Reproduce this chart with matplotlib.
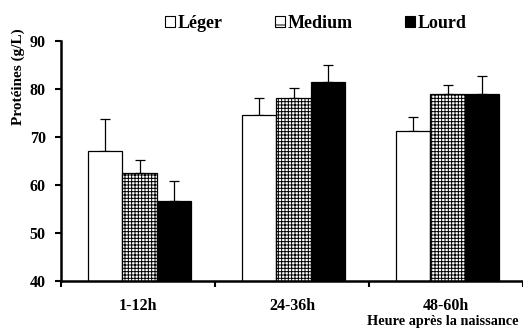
import matplotlib
matplotlib.use("Agg")
import matplotlib.pyplot as plt
import numpy as np
from matplotlib.patches import Patch

categories = ["1-12h", "24-36h", "48-60h"]
series = ["Léger", "Medium", "Lourd"]
leger = [67.0, 74.6, 71.2]
leger_err = [6.8, 3.5, 2.9]
medium = [62.4, 78.2, 79.0]
medium_err = [2.9, 2.1, 1.8]
lourd = [56.7, 81.5, 79.0]
lourd_err = [4.1, 3.5, 3.8]
yticks = [40, 50, 60, 70, 80, 90]

plt.rcParams['font.family'] = ['Liberation Serif', 'DejaVu Serif']
plt.rcParams['font.weight'] = 'bold'
plt.rcParams['hatch.linewidth'] = 0.7

W, H = 523, 328
fig = plt.figure(figsize=(W / 100, H / 100), dpi=100)
ax = fig.add_axes([61 / W, (H - 281) / H, (W - 61) / W, (281 - 41) / H])

x = np.arange(len(categories))
w = 0.223
styles = [
    dict(facecolor='white', hatch=None),
    dict(facecolor='white', hatch='+++++'),
    dict(facecolor='black', hatch=None),
]
vals = [leger, medium, lourd]
errs = [leger_err, medium_err, lourd_err]
for k in range(3):
    ax.bar(x + (k - 1) * w + 0.01, vals[k], w, bottom=0, color=styles[k]['facecolor'],
           edgecolor='black', linewidth=0.9, hatch=styles[k]['hatch'], zorder=2)
    ax.errorbar(x + (k - 1) * w + 0.01, vals[k], yerr=[np.zeros(3), errs[k]], fmt='none',
                ecolor='black', elinewidth=0.9, capsize=3.5, capthick=0.9, zorder=1)

ax.set_ylim(40, 90)
ax.set_xlim(-0.5, -0.5 + (W - 61) / 157)
ax.set_yticks(yticks)
ax.tick_params(axis='y', direction='out', length=4, width=1.5, pad=7, labelsize=11.5)
ax.set_xticks(x)
ax.set_xticklabels(categories)
ax.tick_params(axis='x', which='major', length=0, pad=12, labelsize=11.5)
ax.set_xticks([-0.5, 0.5, 1.5, 2.5], minor=True)
ax.tick_params(axis='x', which='minor', direction='out', length=4, width=1.5)
for lab in ax.get_xticklabels() + ax.get_yticklabels():
    lab.set_fontweight('bold')

for s in ['top', 'right']:
    ax.spines[s].set_visible(False)
for s in ['left', 'bottom']:
    ax.spines[s].set_linewidth(1.8)

fig.text(18 / W, 1 - 77 / H, "Protéines (g/L)", rotation=90, ha='center', va='center',
         fontsize=11, fontweight='bold')
fig.text(367 / W, 1 - 322 / H, "Heure après la naissance", ha='left', va='center',
         fontsize=10.3, fontweight='bold')

handles = [Patch(facecolor='white', edgecolor='black', linewidth=0.8),
           Patch(facecolor='white', edgecolor='black', linewidth=0.8, hatch='+'),
           Patch(facecolor='black', edgecolor='black', linewidth=0.8)]
leg = fig.legend(handles, series, loc='center', bbox_to_anchor=(316 / W, 1 - 23 / H),
                 ncol=3, frameon=False, handlelength=0.55, handleheight=0.55,
                 handletextpad=0.15, columnspacing=2.9, borderpad=0, borderaxespad=0,
                 prop={'weight': 'bold', 'size': 13})

fig.savefig("out.png", dpi=100)
